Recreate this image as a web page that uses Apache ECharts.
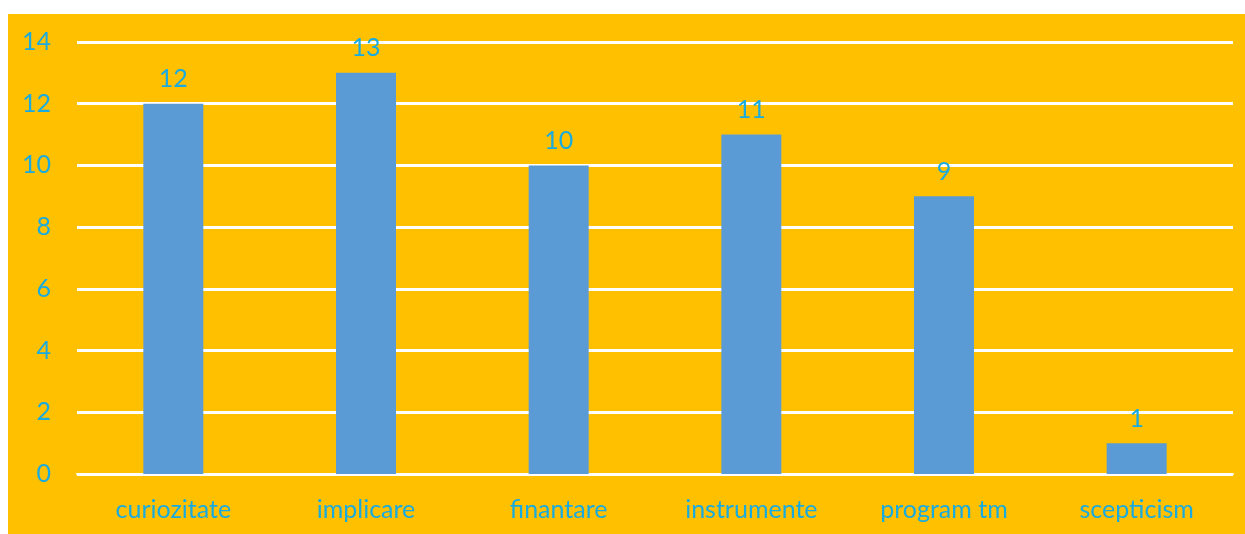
<!DOCTYPE html>
<html>
<head>
<meta charset="utf-8">
<script src="https://cdn.jsdelivr.net/npm/echarts@6/dist/echarts.min.js"></script>
<style>
html,body{margin:0;padding:0;background:#fff;}
#c{position:absolute;left:8px;top:14px;width:1237px;height:520px;}
</style>
</head>
<body>
<div id="c"></div>
<script>
const categories = ['curiozitate','implicare','finantare','instrumente','program tm','scepticism'];
const values = [12,13,10,11,9,1];
const yTicks = [0,2,4,6,8,10,12,14];

const txt = '#19ABDF';
const font = 'Lato, "Open Sans", sans-serif';
const chart = echarts.init(document.getElementById('c'));
chart.setOption({
  backgroundColor: '#FFC000',
  animation: false,
  grid: {left: 69, right: 12, top: 28, bottom: 60},
  xAxis: {
    type: 'category',
    data: categories,
    axisLine: {show: true, lineStyle: {color: '#FFFFFF', width: 2}},
    axisTick: {show: false},
    axisLabel: {color: txt, fontSize: 25, fontFamily: font, margin: 23}
  },
  yAxis: {
    type: 'value',
    min: yTicks[0], max: yTicks[yTicks.length-1], interval: 2,
    axisLine: {show: false},
    axisTick: {show: false},
    splitLine: {lineStyle: {color: '#FFFFFF', width: 3}},
    axisLabel: {color: txt, fontSize: 25, fontFamily: font, margin: 26, align: 'right'}
  },
  series: [{
    type: 'bar',
    data: values,
    barWidth: 60,
    itemStyle: {color: '#5B9BD5'},
    label: {show: true, position: 'top', color: txt, fontSize: 25, fontFamily: font, distance: 12}
  }]
});
</script>
</body>
</html>
